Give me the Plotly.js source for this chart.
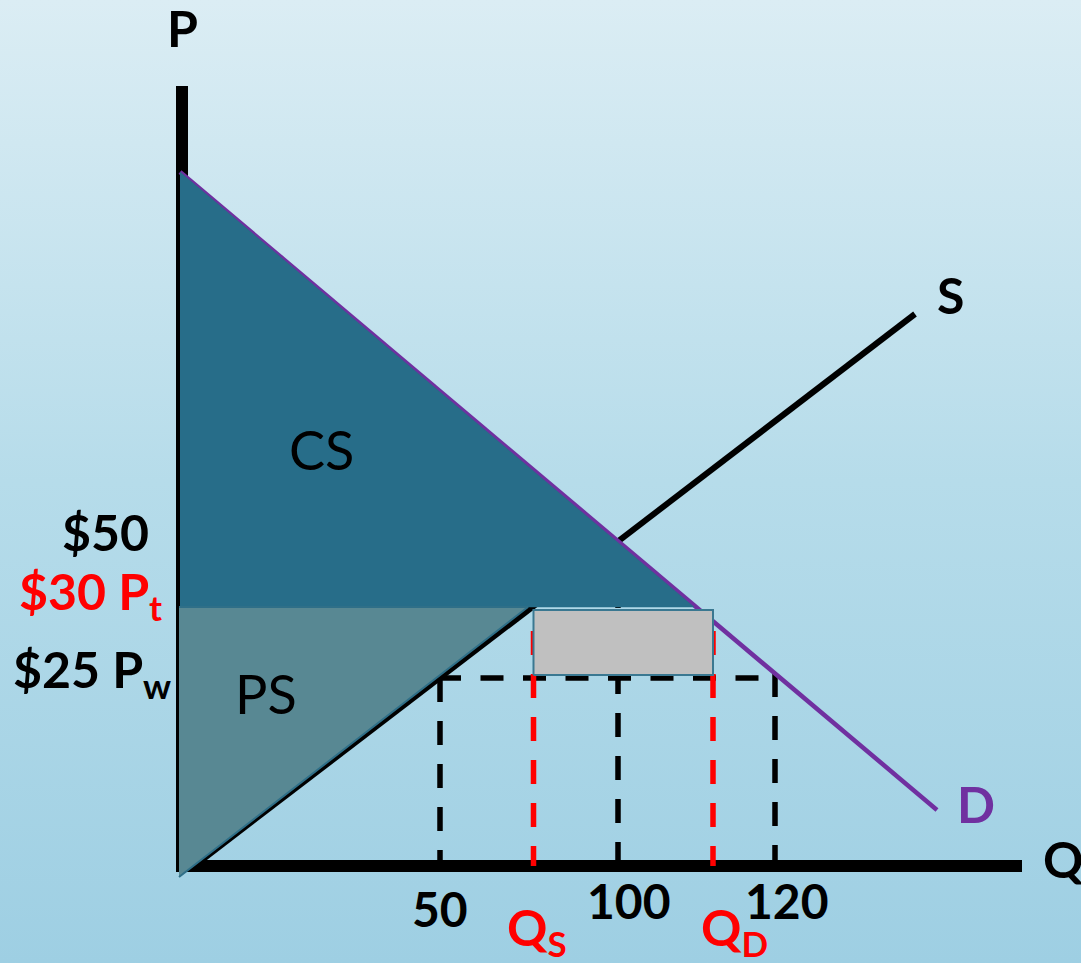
<!DOCTYPE html>
<html>
<head>
<meta charset="utf-8">
<script src="https://cdn.plot.ly/plotly-3.0.1.min.js"></script>
<style>
  html, body { margin: 0; padding: 0; }
  body {
    width: 1081px; height: 963px; overflow: hidden;
    background: linear-gradient(to bottom, #dbedf4 0%, #b6dcea 50%, #9ecfe3 100%);
  }
  #chart { width: 1081px; height: 963px; }
</style>
</head>
<body>
<div id="chart"></div>
<script>
// Tariff diagram (schematic, not to scale): all positions are in drawing units
// on a blank plane whose origin is where the P and Q axes meet.

// Price levels on the P axis and their labels
const priceLevels = [65, 51.8, 37.6];
const priceLabels = ['$50', '$30 P<sub>t</sub>', '$25 P<sub>w</sub>'];
const priceColors = ['#000000', '#ff0000', '#000000'];

// Quantity marks on the Q axis and their labels
const qtyLevels = [51.6, 70.3, 87.2, 106.2, 118.6];
const qtyLabels = ['50', 'Q<sub>S</sub>', '100', 'Q<sub>D</sub>', '120'];

// Supply and demand curves (end points)
const supplyQ = [2.4, 146.6];
const supplyP = [0, 110.4];
const demandQ = [-0.4, 151];
const demandP = [138.8, 11.2];

// Surplus regions
const csQ = [-0.4, 102.4, -0.4];
const csP = [138.8, 51.8, 51.8];
const psQ = [-0.6, 69.2, -0.6];
const psP = [51.8, 51.8, -2.2];

const [P50, Pt, Pw] = priceLevels;
const [Q50, Qs, Q100, Qd, Q120] = qtyLevels;

const black = '#000000', red = '#ff0000', purple = '#7030a0';
const dashStyle = '24px,19px';
const boxInset = 0.6;

const traces = [];
function seg(x, y, color, width, dash) {
  traces.push({x, y, type: 'scatter', mode: 'lines', hoverinfo: 'skip',
    line: {color, width, dash: dash || 'solid'}, showlegend: false});
}

// Guide lines at the world price and the quantities
seg([Q50 - 0.4, Q120], [Pw, Pw], black, 5.5, '23px,19.5px');
seg([Q50, Q50], [Pw, 0], black, 5.5, dashStyle);
seg([Q100, Q100], [P50, 0], black, 5.5, dashStyle);
seg([Q120, Q120], [Pw + 1, 0], black, 5.5, dashStyle);
seg([Qs, Qs], [47, 0], red, 5.5, dashStyle);
seg([Qd, Qd], [47, 0], red, 5.5, dashStyle);

// Curves
seg(supplyQ, supplyP, black, 6);
seg(demandQ, demandP, purple, 4.5);

// Consumer and producer surplus
traces.push({x: csQ, y: csP, type: 'scatter', mode: 'lines', fill: 'toself',
  fillcolor: '#276d89', line: {color: '#276d89', width: 0.5}, hoverinfo: 'skip', showlegend: false});
traces.push({x: psQ, y: psP, type: 'scatter', mode: 'lines', fill: 'toself',
  fillcolor: '#588893', line: {color: '#2f6f88', width: 2}, hoverinfo: 'skip', showlegend: false});

// Tariff revenue box
traces.push({
  x: [Qs, Qd, Qd, Qs, Qs],
  y: [Pw + boxInset, Pw + boxInset, Pt - boxInset, Pt - boxInset, Pw + boxInset],
  type: 'scatter', mode: 'lines', fill: 'toself', fillcolor: '#c0c0c0',
  line: {color: '#3a7891', width: 2}, hoverinfo: 'skip', showlegend: false
});

const font = (size, color, weight) => ({family: 'Lato, "Open Sans", sans-serif', size, color, weight});

const annotations = [
  {x: 0, y: 167.6, text: 'P', font: font(50, black, 700)},
  {x: 153.6, y: 114.2, text: 'S', font: font(50, black, 700)},
  {x: 158.8, y: 12.4, text: 'D', font: font(50, purple, 700)},
  {x: 176.2, y: 1.4, text: 'Q', font: font(50, black, 700)},
  {x: 27.8, y: 83.4, text: 'CS', font: font(54, black, 400)},
  {x: 16.8, y: 34.6, text: 'PS', font: font(54, black, 400)}
];

// Price labels, right-aligned against the P axis
const priceLabelX = [-6.2, -3.6, -1.8];
const priceLabelY = [66.8, 54.4, 38.8];
priceLevels.forEach((p, i) => {
  annotations.push({x: priceLabelX[i], y: priceLabelY[i], text: priceLabels[i],
    xanchor: 'right', font: font(50, priceColors[i], 700)});
});

// Quantity labels under the Q axis
const qtyLabelDX = [0, 0.6, 2.2, 4.2, 2.4];
const qtyLabelY = [-8.4, -12.8, -6.8, -12.8, -6.8];
qtyLevels.forEach((q, i) => {
  const isRed = qtyLabels[i].startsWith('Q');
  annotations.push({x: q + qtyLabelDX[i], y: qtyLabelY[i], text: qtyLabels[i],
    font: font(isRed ? 50 : 48, isRed ? red : black, 700)});
});
annotations.forEach(a => {
  a.xref = 'x'; a.yref = 'y'; a.showarrow = false;
  a.xanchor = a.xanchor || 'center'; a.yanchor = 'middle';
});

const layout = {
  width: 1081, height: 963,
  margin: {l: 0, r: 0, t: 0, b: 0},
  paper_bgcolor: 'rgba(0,0,0,0)', plot_bgcolor: 'rgba(0,0,0,0)',
  xaxis: {range: [-36.4, 179.8], visible: false, fixedrange: true},
  yaxis: {range: [-19.4, 173.2], visible: false, fixedrange: true},
  showlegend: false,
  annotations,
  shapes: [
    // P and Q axes
    {type: 'line', xref: 'x', yref: 'y', x0: 0, x1: 0, y0: -1.2, y1: 156,
      line: {color: black, width: 12}, layer: 'below'},
    {type: 'line', xref: 'x', yref: 'y', x0: -1.2, x1: 168, y0: 0, y1: 0,
      line: {color: black, width: 12}, layer: 'below'}
  ]
};

Plotly.newPlot('chart', traces, layout, {displayModeBar: false, staticPlot: true});
</script>
</body>
</html>
